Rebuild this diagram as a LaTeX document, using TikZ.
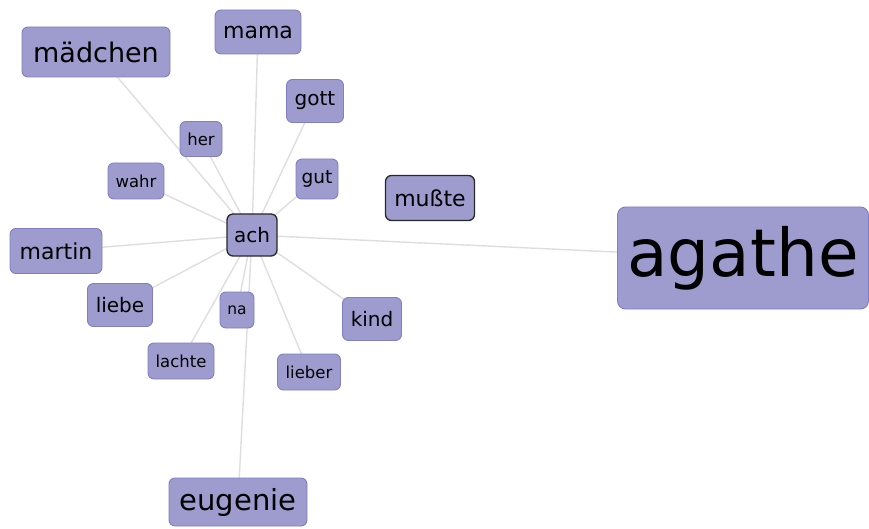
\documentclass[tikz,border=0pt]{standalone}
\usepackage{fontspec}
\setmainfont{DejaVu Sans}
\usetikzlibrary{backgrounds}
\definecolor{nodefill}{RGB}{158,156,206}
\definecolor{nodeborder}{RGB}{128,126,196}
\definecolor{edgegray}{RGB}{222,222,222}
\definecolor{darkborder}{RGB}{40,40,40}
\tikzset{
  word/.style={draw=nodeborder, fill=nodefill, rounded corners=6pt, inner sep=0pt, line width=0.9pt, text=black},
  hub/.style={word, draw=darkborder, line width=1.3pt},
  link/.style={draw=edgegray, line width=1.4pt},
  fs/.style={font=\fontsize{#1}{#1}\selectfont}
}
\begin{document}
\begin{tikzpicture}[x=1pt,y=-1pt]
\useasboundingbox (0,0) rectangle (869,529);
\node[word, minimum width=148pt, minimum height=50pt, fs=27] (madchen) at (96,52) {mädchen};
\node[word, minimum width=86pt, minimum height=44pt, fs=22] (mama) at (258,32) {mama};
\node[word, minimum width=57pt, minimum height=43pt, fs=20] (gott) at (315,101) {gott};
\node[word, minimum width=42pt, minimum height=35pt, fs=16.5] (her) at (201,139) {her};
\node[word, minimum width=56pt, minimum height=36pt, fs=16.5] (wahr) at (136,181) {wahr};
\node[word, minimum width=42pt, minimum height=40pt, fs=18.5] (gut) at (317,179) {gut};
\node[hub, minimum width=89pt, minimum height=45pt, fs=22] (musste) at (430,198) {mußte};
\node[hub, minimum width=50pt, minimum height=42pt, fs=20] (ach) at (252,235) {ach};
\node[word, minimum width=92pt, minimum height=45pt, fs=22] (martin) at (56,251) {martin};
\node[word, rounded corners=8pt, minimum width=251pt, minimum height=102pt, fs=66] (agathe) at (743,258) {agathe};
\node[word, minimum width=65pt, minimum height=43pt, fs=20] (liebe) at (120,305) {liebe};
\node[word, minimum width=34pt, minimum height=36pt, fs=15.5] (na) at (237,310) {na};
\node[word, minimum width=59pt, minimum height=43pt, fs=20] (kind) at (372,319) {kind};
\node[word, minimum width=66pt, minimum height=36pt, fs=16.5] (lachte) at (181,361) {lachte};
\node[word, minimum width=63pt, minimum height=36pt, fs=16.5] (lieber) at (309,372) {lieber};
\node[word, minimum width=138pt, minimum height=48pt, fs=29] (eugenie) at (238,502) {eugenie};
\begin{pgfonlayer}{background}
\foreach \t in {madchen,mama,gott,her,wahr,gut,martin,agathe,liebe,na,kind,lachte,lieber,eugenie}
  \draw[link] (ach.center) -- (\t.center);
\end{pgfonlayer}
\end{tikzpicture}
\end{document}
